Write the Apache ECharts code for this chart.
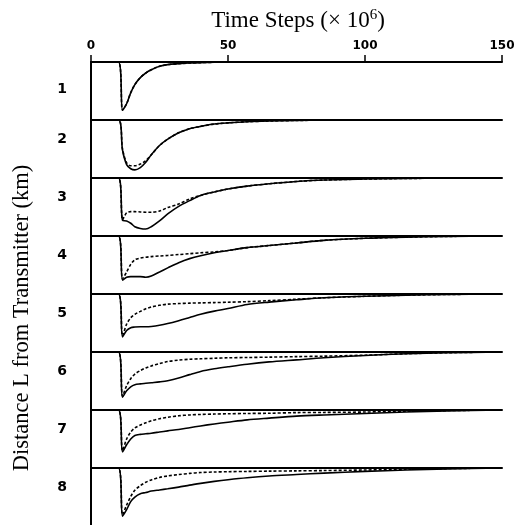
<!DOCTYPE html>
<html><head><meta charset="utf-8">
<script src="https://cdn.jsdelivr.net/npm/echarts@6/dist/echarts.min.js"></script>
<style>html,body{margin:0;padding:0;background:#fff}#c{width:523px;height:525px}</style>
</head><body><div id="c"></div>
<script>
// ---- data (depth of dip as fraction of row height; 0 = row baseline) ----
const xs = [0, 10, 11.5, 13, 14.5, 16, 18, 20, 22, 25, 28, 32, 36, 40, 45, 50, 57, 65, 75, 85, 100, 115, 130, 150];
const xTicks = [0, 50, 100, 150];
const rowLabels = ['1', '2', '3', '4', '5', '6', '7', '8'];

const solid1  = [0, 0, 0.83, 0.72, 0.53, 0.39, 0.27, 0.19, 0.135, 0.075, 0.045, 0.03, 0.018, 0.01, 0.005, 0.002, 0, 0, 0, 0, 0, 0, 0, 0];
const dashed1 = [0, 0, 0.83, 0.72, 0.53, 0.39, 0.27, 0.19, 0.135, 0.075, 0.045, 0.03, 0.018, 0.01, 0.005, 0.002, 0, 0, 0, 0, 0, 0, 0, 0];
const solid2  = [0, 0, 0.52, 0.77, 0.84, 0.86, 0.82, 0.73, 0.6, 0.44, 0.33, 0.22, 0.15, 0.11, 0.07, 0.05, 0.03, 0.018, 0.008, 0.003, 0, 0, 0, 0];
const dashed2 = [0, 0, 0.5, 0.74, 0.79, 0.79, 0.76, 0.7, 0.6, 0.44, 0.33, 0.22, 0.15, 0.11, 0.07, 0.05, 0.03, 0.018, 0.008, 0.003, 0, 0, 0, 0];
const solid3  = [0, 0, 0.73, 0.74, 0.78, 0.84, 0.87, 0.88, 0.84, 0.74, 0.62, 0.49, 0.39, 0.3, 0.24, 0.19, 0.14, 0.1, 0.06, 0.035, 0.018, 0.008, 0.002, 0];
const dashed3 = [0, 0, 0.72, 0.6, 0.58, 0.58, 0.585, 0.59, 0.59, 0.57, 0.51, 0.45, 0.36, 0.3, 0.24, 0.19, 0.14, 0.1, 0.06, 0.035, 0.018, 0.008, 0.002, 0];
const solid4  = [0, 0, 0.76, 0.71, 0.7, 0.7, 0.7, 0.71, 0.69, 0.62, 0.55, 0.46, 0.39, 0.34, 0.29, 0.25, 0.2, 0.165, 0.12, 0.075, 0.04, 0.02, 0.007, 0];
const dashed4 = [0, 0, 0.74, 0.62, 0.49, 0.41, 0.38, 0.365, 0.355, 0.345, 0.335, 0.32, 0.305, 0.29, 0.275, 0.25, 0.2, 0.165, 0.12, 0.075, 0.04, 0.02, 0.007, 0];
const solid5  = [0, 0, 0.74, 0.63, 0.58, 0.57, 0.565, 0.565, 0.56, 0.54, 0.51, 0.46, 0.405, 0.35, 0.295, 0.25, 0.18, 0.14, 0.1, 0.065, 0.04, 0.02, 0.008, 0];
const dashed5 = [0, 0, 0.72, 0.52, 0.41, 0.35, 0.3, 0.255, 0.225, 0.195, 0.175, 0.165, 0.158, 0.153, 0.148, 0.142, 0.132, 0.115, 0.09, 0.065, 0.04, 0.02, 0.008, 0];
const solid6  = [0, 0, 0.78, 0.67, 0.6, 0.565, 0.55, 0.54, 0.53, 0.515, 0.495, 0.45, 0.39, 0.335, 0.29, 0.255, 0.21, 0.17, 0.135, 0.1, 0.06, 0.03, 0.012, 0];
const dashed6 = [0, 0, 0.76, 0.58, 0.46, 0.38, 0.32, 0.275, 0.24, 0.2, 0.165, 0.14, 0.125, 0.117, 0.108, 0.1, 0.095, 0.089, 0.08, 0.072, 0.055, 0.03, 0.012, 0];
const solid7  = [0, 0, 0.72, 0.6, 0.5, 0.44, 0.42, 0.41, 0.4, 0.38, 0.36, 0.335, 0.305, 0.275, 0.24, 0.21, 0.17, 0.14, 0.105, 0.085, 0.06, 0.035, 0.015, 0];
const dashed7 = [0, 0, 0.7, 0.5, 0.38, 0.31, 0.26, 0.22, 0.185, 0.15, 0.125, 0.1, 0.085, 0.077, 0.07, 0.065, 0.06, 0.056, 0.045, 0.042, 0.035, 0.02, 0.01, 0];
const solid8  = [0, 0, 0.845, 0.73, 0.59, 0.51, 0.45, 0.43, 0.405, 0.385, 0.365, 0.335, 0.3, 0.27, 0.235, 0.205, 0.17, 0.14, 0.115, 0.09, 0.06, 0.035, 0.015, 0];
const dashed8 = [0, 0, 0.82, 0.65, 0.5, 0.39, 0.31, 0.25, 0.21, 0.165, 0.14, 0.115, 0.095, 0.08, 0.07, 0.065, 0.06, 0.055, 0.05, 0.045, 0.035, 0.022, 0.01, 0];

const solidRows  = [solid1, solid2, solid3, solid4, solid5, solid6, solid7, solid8];
const dashedRows = [dashed1, dashed2, dashed3, dashed4, dashed5, dashed6, dashed7, dashed8];

// ---- layout ----
const LEFT = 91, RIGHT = 21, TOP = 62, ROW_H = 58;
const labelDy = [27, 19, 19, 19, 19, 19, 19, 19];

const grid = [], xAxis = [], yAxis = [], series = [], graphic = [];
rowLabels.forEach((lab, i) => {
  const top = TOP + ROW_H * i;
  grid.push({ left: LEFT, right: RIGHT, top: top, height: ROW_H });
  xAxis.push({
    gridIndex: i, type: 'value', min: xTicks[0], max: xTicks[xTicks.length - 1], interval: 50,
    position: 'top',
    axisLine: { show: true, onZero: false, lineStyle: { color: '#000', width: 2 } },
    axisTick: { show: i === 0, inside: false, length: 7, lineStyle: { color: '#000', width: 1.5 } },
    axisLabel: { show: i === 0, margin: 10, color: '#000', fontFamily: 'DejaVu Sans', fontWeight: 'bold', fontSize: 12 },
    splitLine: { show: false }
  });
  yAxis.push({
    gridIndex: i, type: 'value', min: 0, max: 1, inverse: true,
    axisLine: { show: true, onZero: false, lineStyle: { color: '#000', width: 2 } },
    axisTick: { show: false }, axisLabel: { show: false }, splitLine: { show: false }
  });
  [[solidRows[i], 'solid'], [dashedRows[i], [3, 2]]].forEach(([arr, type]) => {
    series.push({
      type: 'line', xAxisIndex: i, yAxisIndex: i,
      data: xs.map((x, k) => [x, arr[k]]),
      showSymbol: false, smooth: 0.3,
      lineStyle: { color: '#000', width: 1.6, type: type }
    });
  });
  graphic.push({
    type: 'text', x: 62, y: top + labelDy[i],
    style: { text: lab, align: 'center', verticalAlign: 'middle', fill: '#000',
      font: 'bold 14px "DejaVu Sans"' }
  });
});

graphic.push({
  type: 'text', x: 298, y: 21,
  style: {
    text: '{a|Time Steps (× 10}{s|6}{a|)}', align: 'center', verticalAlign: 'middle',
    rich: {
      a: { fontFamily: 'Liberation Serif', fontSize: 23, fill: '#000', lineHeight: 26 },
      s: { fontFamily: 'Liberation Serif', fontSize: 15, fill: '#000', verticalAlign: 'top', lineHeight: 14 }
    }
  }
});
graphic.push({
  type: 'text', x: 22, y: 318, rotation: Math.PI / 2,
  style: { text: 'Distance L from Transmitter (km)', align: 'center', verticalAlign: 'middle',
    fill: '#000', font: '22.5px "Liberation Serif"' }
});

const chart = echarts.init(document.getElementById('c'), null, { renderer: 'canvas' });
chart.setOption({ animation: false, backgroundColor: '#fff', grid, xAxis, yAxis, series, graphic });
</script>
</body></html>
